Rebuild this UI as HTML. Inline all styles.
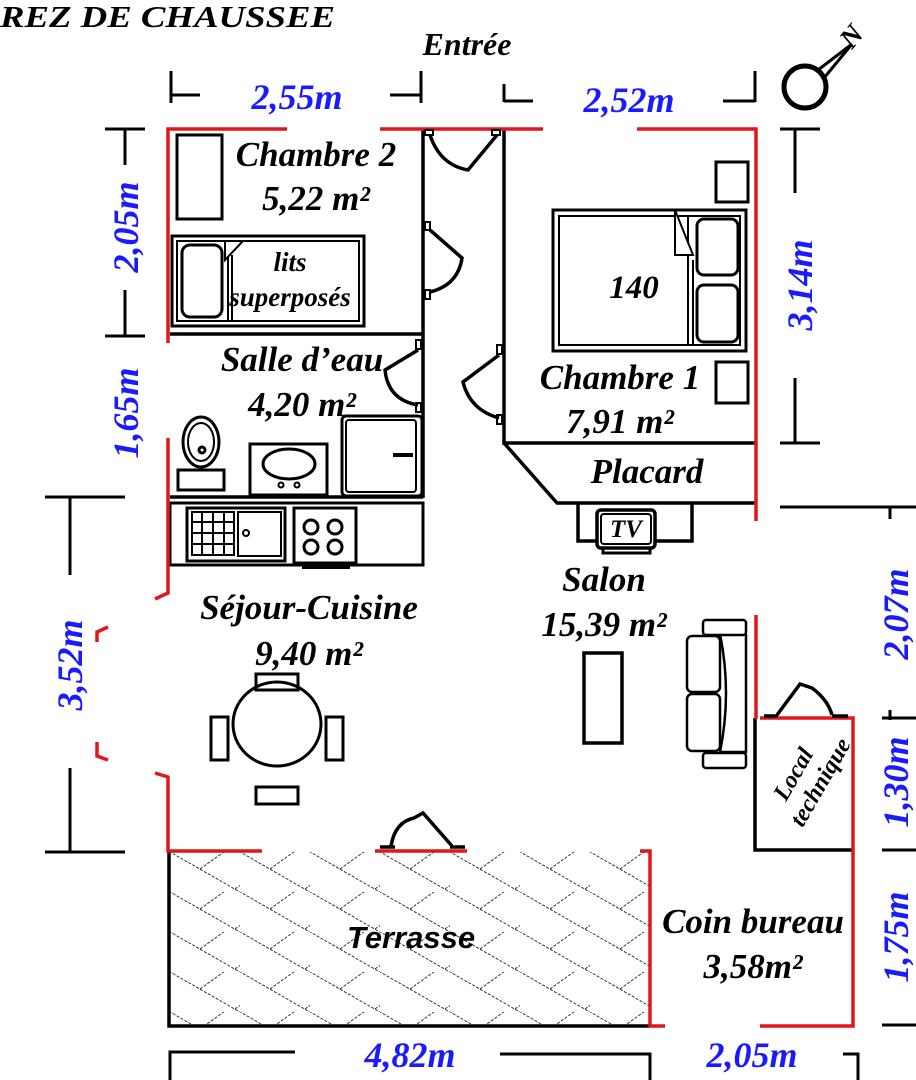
<!DOCTYPE html>
<html><head><meta charset="utf-8"><style>
html,body{margin:0;padding:0;background:#fff;}
svg{display:block;}
.l{font-family:"Liberation Serif",serif;font-style:italic;font-weight:bold;fill:#000;}
.d{font-family:"Liberation Serif",serif;font-style:italic;font-weight:bold;fill:#1a1aff;font-size:36px;}
</style></head><body>
<svg width="916" height="1080" viewBox="0 0 916 1080" xmlns="http://www.w3.org/2000/svg">
<defs>
<pattern id="hb" x="170" y="852" width="70" height="40" patternUnits="userSpaceOnUse">
<g stroke="#222" stroke-width="0.9" stroke-dasharray="3,1.5" fill="none">
<path d="M-5,-3 L75,43"/>
<path d="M30,17 L58,-3"/>
<path d="M65,37 L75,30 M-5,30 L0,26"/>
</g>
</pattern>
</defs>
<rect width="916" height="1080" fill="#fff"/>

<!-- header -->
<text x="0" y="27" class="l" style="font-size:31px" textLength="335" lengthAdjust="spacingAndGlyphs">REZ DE CHAUSSEE</text>
<text x="467" y="55" class="l" text-anchor="middle" style="font-size:32px">Entrée</text>

<!-- compass -->
<g stroke="#000" fill="none">
<circle cx="805" cy="87" r="21" stroke-width="5"/>
<path d="M818,70 L852,44 M824,78 L852,44" stroke-width="3"/>
</g>
<text x="0" y="0" class="l" style="font-size:28px" transform="translate(852,50) rotate(-50)">N</text>

<!-- dims -->
<g stroke="#000" stroke-width="3" fill="none">
<path d="M171,71 V103 M171,95 H200"/>
<path d="M421,71 V103 M421,95 H390"/>
<path d="M504,84 V102 M504,101 H533"/>
<path d="M755,71 V102 M755,101 H723"/>
<path d="M105,129 H145 M125,129 V165 M125,290 V336 M105,336 H145"/>
<path d="M45,497 H125 M70,497 V575 M70,768 V852 M45,852 H125"/>
<path d="M780,129 H820 M795,129 V193 M795,378 V443 M780,443 H820"/>
<path d="M780,507 H916 M890,507 V519"/>
<path d="M882,718 H916 M890,710 V720 M882,850 H916 M882,1025 H916"/>
<path d="M170,1080 V1052 H295 M500,1054 H650 V1080 M843,1054 H858 V1080"/>
</g>
<text x="297" y="109" class="d" text-anchor="middle">2,55m</text>
<text x="629" y="112" class="d" text-anchor="middle">2,52m</text>
<text class="d" text-anchor="middle" transform="translate(138,227) rotate(-90)">2,05m</text>
<text class="d" text-anchor="middle" transform="translate(138,413) rotate(-90)">1,65m</text>
<text class="d" text-anchor="middle" transform="translate(82,665) rotate(-90)">3,52m</text>
<text class="d" text-anchor="middle" transform="translate(812,285) rotate(-90)">3,14m</text>
<text class="d" text-anchor="middle" transform="translate(908,614) rotate(-90)">2,07m</text>
<text class="d" text-anchor="middle" transform="translate(908,782) rotate(-90)">1,30m</text>
<text class="d" text-anchor="middle" transform="translate(908,937) rotate(-90)">1,75m</text>
<text x="410" y="1067" class="d" text-anchor="middle">4,82m</text>
<text x="752" y="1067" class="d" text-anchor="middle">2,05m</text>

<!-- terrace -->
<rect x="170" y="852" width="480" height="174" fill="url(#hb)"/>
<path d="M169,852 V1026 H650" stroke="#000" stroke-width="3.5" fill="none"/>
<text x="411" y="948" style="font-family:'Liberation Sans',sans-serif;font-style:italic;font-weight:bold;font-size:31px" text-anchor="middle">Terrasse</text>

<!-- black interior walls -->
<g stroke="#000" stroke-width="3.5" fill="none">
<path d="M170,334 H423"/>
<path d="M423,129 V498"/>
<path d="M504,129 V443 H755"/>
<path d="M504,443 L557,503 H755"/>
<path d="M170,497 H423"/>
<rect x="170" y="503" width="253" height="62" stroke-width="3"/>
<path d="M755,718 V850 H853"/>
</g>

<!-- red walls -->
<g stroke="#e0161b" stroke-width="3.5" fill="none">
<path d="M168,343 V129 H287"/>
<path d="M380,129 H543"/>
<path d="M637,129 H756 V521"/>
<path d="M168,438 V593 L155,599"/>
<path d="M108,627 L97,632 V642"/>
<path d="M97,742 V756 L108,760"/>
<path d="M155,773 L168,777 V851 H262"/>
<path d="M375,851 H467"/>
<path d="M640,851 H650 V1026 H665"/>
<path d="M760,1026 H853 V718 H760"/>
<path d="M756,615 V719"/>
</g>

<!-- doors -->
<g stroke="#000" stroke-width="3.5" fill="none">
<rect x="425" y="130" width="8" height="5" stroke-width="2"/>
<rect x="492" y="130" width="8" height="5" stroke-width="2"/>
<path d="M430,135 Q440,165 468,170 L497,135"/>
<rect x="425" y="222" width="5" height="8" stroke-width="2"/>
<rect x="425" y="290" width="5" height="9" stroke-width="2"/>
<path d="M430,230 L462,258 Q458,285 430,292"/>
<rect x="416" y="340" width="5" height="9" stroke-width="2"/>
<rect x="416" y="403" width="5" height="9" stroke-width="2"/>
<path d="M418,350 L385,370 Q388,400 418,405"/>
<rect x="497" y="345" width="5" height="9" stroke-width="2"/>
<rect x="497" y="415" width="5" height="9" stroke-width="2"/>
<path d="M499,355 L463,382 Q470,410 499,418"/>
<path d="M380,847 H395 M450,847 H465"/>
<path d="M391,846 Q395,822 414,818 L423,813 L452,846"/>
<path d="M764,716 H778 M832,716 H848"/>
<path d="M777,715 L800,684 L812,688 Q828,700 832,715"/>
</g>

<!-- chambre 2 furniture -->
<g stroke="#000" fill="none">
<rect x="177" y="135" width="45" height="84" stroke-width="3"/>
<rect x="172" y="236" width="192" height="90" stroke-width="3"/>
<rect x="177" y="241" width="182" height="80" stroke-width="2"/>
<rect x="182" y="245" width="40" height="72" rx="8" stroke-width="3"/>
<path d="M228,241 V321 M232,255 V321" stroke-width="2"/>
<path d="M225,241 H243 L225,260 Z" stroke-width="2" fill="#fff"/>
</g>
<text x="316" y="166" class="l" text-anchor="middle" style="font-size:35px">Chambre 2</text>
<text x="316" y="210" class="l" text-anchor="middle" style="font-size:35px">5,22 m²</text>
<text x="290" y="271" class="l" text-anchor="middle" style="font-size:27px">lits</text>
<text x="290" y="306" class="l" text-anchor="middle" style="font-size:27px">superposés</text>

<!-- salle d'eau -->
<text x="302" y="371" class="l" text-anchor="middle" style="font-size:35px">Salle d’eau</text>
<text x="302" y="416" class="l" text-anchor="middle" style="font-size:35px">4,20 m²</text>
<g stroke="#000" fill="none" stroke-width="3">
<ellipse cx="201" cy="442" rx="18" ry="25"/>
<ellipse cx="201" cy="442" rx="13" ry="19" stroke-width="2"/>
<circle cx="202" cy="450" r="3"/>
<path d="M178,470 H224 V490 H178 Z"/>
<rect x="250" y="444" width="77" height="51"/>
<ellipse cx="289" cy="464" rx="26" ry="15"/>
<circle cx="281" cy="485" r="2.5" stroke-width="2"/><circle cx="297" cy="485" r="2.5" stroke-width="2"/>
<rect x="342" y="416" width="80" height="80" rx="4"/>
<rect x="346" y="420" width="70" height="72" rx="3" stroke-width="2"/>
<path d="M393,455 H413" stroke-width="4"/>
<rect x="187" y="508" width="98" height="53" stroke-width="3"/>
<rect x="192" y="512" width="42" height="43" stroke-width="2"/>
<path d="M192,522 H234 M192,533 H234 M192,544 H234 M202,512 V555 M213,512 V555 M224,512 V555" stroke-width="2"/>
<rect x="238" y="512" width="43" height="44" stroke-width="2"/>
<circle cx="246" cy="533" r="3" stroke-width="2"/>
<rect x="294" y="508" width="62" height="55"/>
<circle cx="311" cy="527" r="7"/><circle cx="335" cy="527" r="7"/>
<circle cx="311" cy="547" r="7"/><circle cx="335" cy="547" r="7"/>
<path d="M302,567 H350" stroke-width="4"/>
</g>

<!-- chambre 1 -->
<g stroke="#000" fill="none" stroke-width="3">
<rect x="716" y="162" width="32" height="40"/>
<rect x="553" y="210" width="193" height="141"/>
<rect x="559" y="216" width="181" height="129" stroke-width="2"/>
<path d="M688,216 V345 M693,260 V345" stroke-width="2"/>
<rect x="697" y="219" width="41" height="56" rx="7"/>
<rect x="697" y="285" width="41" height="57" rx="7"/>
<path d="M675,210 V255 H693 Z" stroke-width="2" fill="#fff"/>
<rect x="716" y="362" width="32" height="41"/>
</g>
<text x="634" y="298" class="l" text-anchor="middle" style="font-size:33px">140</text>
<text x="620" y="389" class="l" text-anchor="middle" style="font-size:35px">Chambre 1</text>
<text x="620" y="433" class="l" text-anchor="middle" style="font-size:35px">7,91 m²</text>
<text x="647" y="483" class="l" text-anchor="middle" style="font-size:35px">Placard</text>

<!-- salon -->
<g stroke="#000" fill="none" stroke-width="3.5">
<path d="M578,503 V541 H692 V503"/>
<rect x="597" y="510" width="58" height="38" rx="4" fill="#fff"/>
<rect x="601" y="514" width="50" height="30" rx="3" stroke-width="2"/>
<path d="M603,548 V553 H650 V548" stroke-width="3"/>
<rect x="584" y="653" width="38" height="90"/>
<rect x="703" y="620" width="43" height="15" rx="3" stroke-width="2.5"/>
<rect x="703" y="753" width="43" height="15" rx="3" stroke-width="2.5"/>
<rect x="687" y="636" width="33" height="56" rx="5" stroke-width="2.5"/>
<rect x="687" y="694" width="33" height="57" rx="5" stroke-width="2.5"/>
<path d="M720,634 Q732,693 720,752 M746,634 V752 H720" stroke-width="2.5"/>
</g>
<text x="626" y="537" class="l" text-anchor="middle" style="font-size:25px">TV</text>
<text x="604" y="591" class="l" text-anchor="middle" style="font-size:35px">Salon</text>
<text x="604" y="636" class="l" text-anchor="middle" style="font-size:35px">15,39 m²</text>

<!-- local technique -->
<text class="l" text-anchor="middle" style="font-size:24px" transform="translate(800,778) rotate(-60)">Local</text>
<text class="l" text-anchor="middle" style="font-size:24px" transform="translate(827,786) rotate(-60)">technique</text>

<!-- séjour -->
<text x="309" y="619" class="l" text-anchor="middle" style="font-size:35px">Séjour-Cuisine</text>
<text x="309" y="665" class="l" text-anchor="middle" style="font-size:35px">9,40 m²</text>
<g stroke="#000" fill="none" stroke-width="3">
<ellipse cx="277" cy="724" rx="44" ry="42"/>
<rect x="256" y="674" width="42" height="16"/>
<rect x="256" y="787" width="42" height="17"/>
<rect x="211" y="717" width="17" height="43"/>
<rect x="326" y="717" width="17" height="43"/>
</g>

<!-- coin bureau -->
<text x="753" y="933" class="l" text-anchor="middle" style="font-size:35px">Coin bureau</text>
<text x="753" y="978" class="l" text-anchor="middle" style="font-size:35px">3,58m²</text>
</svg>
</body></html>
